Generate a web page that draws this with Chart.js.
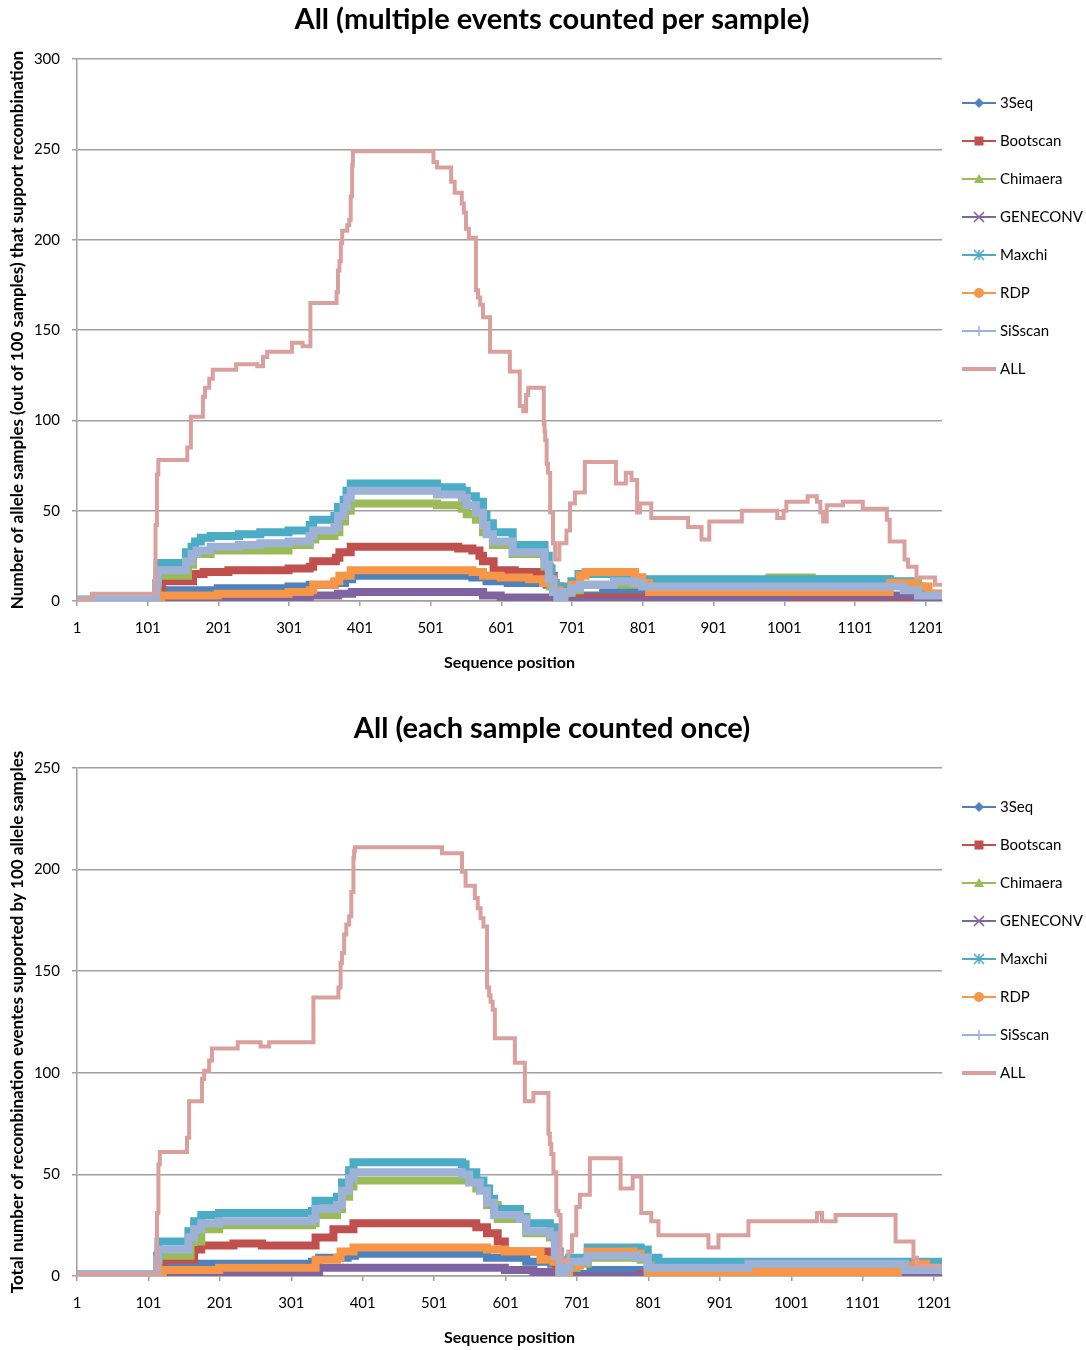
<!DOCTYPE html>
<html>
<head>
<meta charset="utf-8">
<script src="https://cdn.jsdelivr.net/npm/chart.js@4/dist/chart.umd.min.js"></script>
<style>
  body { margin: 0; background: #fff; }
  canvas { position: absolute; left: 0; }
</style>
</head>
<body>
<canvas id="topChart" width="1086" height="675" style="top:0"></canvas>
<canvas id="bottomChart" width="1086" height="675" style="top:675px"></canvas>
<script>
// series (legend order) and their look
const seriesNames = ['3Seq', 'Bootscan', 'Chimaera', 'GENECONV', 'Maxchi', 'RDP', 'SiSscan', 'ALL'];
const seriesColors = ['#4F81BD', '#C0504D', '#9BBB59', '#8064A2', '#4BACC6', '#F79646', '#9DB2D6', '#D9A09E'];
const markerStyles = ['diamond', 'square', 'triangle', 'x', 'star', 'circle', 'plus', 'none'];

const xTickLabels = [1, 101, 201, 301, 401, 501, 601, 701, 801, 901, 1001, 1101, 1201];
const topYTicks = [0, 50, 100, 150, 200, 250, 300];
const bottomYTicks = [0, 50, 100, 150, 200, 250];

// ---- top chart: [sequence position, count] where the step starts ----
const top3Seq = [[1,0],[118,0],[122,6],[200,7],[300,8],[330,9],[365,10],[380,12],[390,14],[560,13],[580,11],[610,10],[665,9],[675,4],[685,0],[695,2],[712,3],[745,5],[790,4],[800,1],[1224,1]];
const topBootscan = [[1,0],[115,0],[118,5],[121,11],[160,11],[165,15],[180,16],[215,17],[300,18],[330,19],[335,22],[367,24],[372,27],[388,30],[540,29],[560,28],[570,25],[575,22],[590,17],[620,16],[660,14],[675,8],[685,2],[800,1],[1224,1]];
const topChimaera = [[1,0],[110,0],[115,14],[150,14],[158,20],[165,26],[190,28],[300,31],[330,34],[338,36],[365,38],[372,44],[380,50],[388,54],[510,53],[545,51],[552,48],[565,45],[575,38],[589,31],[617,26],[662,19],[670,8],[680,2],[700,6],[712,9],[790,10],[900,11],[980,13],[1040,12],[1150,10],[1190,4],[1224,3]];
const topGeneconv = [[1,0],[120,0],[125,1],[200,2],[330,3],[370,4],[390,5],[560,5],[575,3],[600,2],[680,0],[820,1],[900,2],[1000,3],[1150,3],[1190,1],[1224,1]];
const topMaxchi = [[1,0],[110,0],[113,10],[115,21],[150,21],[155,27],[163,30],[168,33],[176,35],[190,36],[230,37],[260,38],[300,39],[330,42],[335,45],[365,47],[370,52],[378,56],[382,61],[388,65],[510,63],[545,61],[552,58],[565,55],[575,48],[580,43],[589,38],[617,31],[662,25],[668,18],[672,10],[678,5],[684,3],[690,8],[700,11],[710,15],[790,13],[800,12],[1150,11],[1180,8],[1195,4],[1224,3]];
const topRdp = [[1,0],[115,0],[120,3],[200,4],[300,5],[330,6],[335,9],[365,11],[372,14],[388,17],[540,17],[560,16],[575,14],[600,13],[640,12],[660,10],[675,6],[683,2],[690,5],[700,9],[712,14],[720,16],[780,16],[790,13],[800,10],[810,5],[1140,5],[1150,10],[1185,8],[1205,4],[1224,2]];
const topSisscan = [[1,1],[110,1],[113,10],[115,17],[150,17],[155,22],[163,26],[170,28],[190,30],[230,31],[260,32],[300,33],[330,36],[335,39],[365,41],[370,47],[378,52],[383,57],[388,61],[510,59],[545,57],[552,53],[565,49],[575,42],[580,37],[589,33],[617,27],[662,20],[668,12],[674,5],[680,2],[690,5],[700,7],[712,9],[760,11],[790,10],[800,8],[1150,8],[1170,6],[1190,3],[1224,2]];
const topAll = [[1,1],[22,4],[108,4],[112,42],[114,70],[116,78],[157,85],[162,102],[179,113],[182,118],[188,123],[193,128],[226,131],[256,130],[264,135],[270,138],[305,143],[320,141],[331,165],[368,171],[370,183],[372,188],[374,198],[376,205],[383,208],[386,211],[388,224],[390,241],[391,249],[505,243],[510,240],[530,232],[535,226],[545,220],[548,215],[551,206],[555,201],[565,172],[568,168],[571,164],[575,157],[585,138],[613,127],[627,108],[632,105],[636,114],[639,118],[661,98],[662,94],[663,89],[665,76],[667,71],[670,49],[674,32],[677,23],[683,32],[693,39],[698,54],[705,60],[719,77],[763,65],[777,71],[785,67],[793,49],[797,54],[813,46],[865,41],[884,34],[895,44],[941,50],[991,46],[1000,50],[1004,55],[1034,58],[1047,55],[1052,49],[1056,44],[1061,53],[1084,55],[1112,51],[1146,45],[1150,33],[1171,23],[1176,19],[1188,13],[1214,9],[1224,9]];

// ---- bottom chart ----
const bottom3Seq = [[1,0],[118,0],[122,6],[330,7],[340,9],[380,10],[390,11],[560,11],[575,9],[621,9],[630,7],[665,6],[675,2],[685,0],[700,1],[720,3],[790,3],[800,1],[1212,1]];
const bottomBootscan = [[1,0],[118,0],[121,8],[160,8],[165,13],[175,15],[220,16],[260,15],[330,15],[335,19],[360,23],[388,26],[545,26],[560,24],[575,21],[590,17],[600,12],[665,11],[672,5],[680,0],[790,1],[800,2],[900,1],[1212,1]];
const bottomChimaera = [[1,0],[110,0],[115,10],[150,10],[160,17],[175,23],[200,25],[330,26],[335,30],[365,33],[372,39],[382,44],[388,47],[540,47],[560,43],[575,35],[590,28],[630,21],[663,19],[672,8],[680,1],[700,6],[716,9],[790,8],[800,5],[1212,5]];
const bottomGeneconv = [[1,0],[120,0],[125,1],[330,1],[340,4],[570,4],[600,3],[640,2],[670,1],[680,0],[1212,0]];
const bottomMaxchi = [[1,0],[110,0],[113,10],[115,17],[150,17],[157,22],[165,27],[175,30],[200,31],[330,32],[335,37],[365,39],[372,46],[382,52],[388,56],[540,55],[545,51],[560,47],[570,43],[578,38],[585,33],[621,29],[630,26],[663,24],[670,12],[677,2],[685,5],[690,9],[716,14],[790,13],[800,9],[815,7],[1212,7]];
const bottomRdp = [[1,0],[118,0],[121,3],[200,4],[330,4],[335,8],[365,9],[370,12],[388,14],[560,14],[575,13],[600,12],[635,12],[650,8],[668,7],[676,1],[690,5],[705,7],[716,12],[770,12],[780,11],[790,9],[800,2],[1140,2],[1150,5],[1175,6],[1190,3],[1212,2]];
const bottomSisscan = [[1,1],[110,1],[113,8],[115,13],[150,13],[157,19],[165,23],[175,26],[200,27],[330,28],[335,33],[365,35],[372,42],[382,48],[388,51],[540,50],[550,46],[565,42],[575,36],[585,30],[621,28],[630,22],[663,20],[670,10],[677,1],[685,4],[690,7],[716,10],[785,9],[800,4],[941,6],[1147,6],[1160,3],[1212,3]];
const bottomAll = [[1,1],[113,31],[115,55],[117,61],[155,68],[158,86],[176,97],[179,101],[186,106],[190,112],[226,115],[258,113],[270,115],[332,137],[367,142],[370,154],[372,159],[375,168],[378,173],[382,177],[385,189],[388,206],[389,209],[390,211],[512,208],[540,199],[545,192],[558,186],[562,181],[566,176],[570,172],[575,142],[578,138],[580,135],[583,131],[586,117],[614,105],[628,86],[640,90],[661,70],[663,65],[665,60],[668,51],[672,32],[675,30],[678,7],[689,12],[694,20],[700,34],[705,40],[719,58],[762,43],[779,49],[791,31],[805,27],[815,20],[885,14],[899,20],[941,27],[1037,31],[1044,27],[1063,30],[1147,17],[1172,9],[1177,5],[1212,5]];

const topSeries = [top3Seq, topBootscan, topChimaera, topGeneconv, topMaxchi, topRdp, topSisscan, topAll];
const bottomSeries = [bottom3Seq, bottomBootscan, bottomChimaera, bottomGeneconv, bottomMaxchi, bottomRdp, bottomSisscan, bottomAll];

function drawMarker(ctx, style, x, y, r, color) {
  ctx.save();
  ctx.fillStyle = color;
  ctx.strokeStyle = color;
  ctx.lineWidth = 1.5;
  ctx.beginPath();
  if (style === 'diamond') {
    ctx.moveTo(x, y - r); ctx.lineTo(x + r, y); ctx.lineTo(x, y + r); ctx.lineTo(x - r, y); ctx.closePath(); ctx.fill();
  } else if (style === 'square') {
    ctx.rect(x - r + 0.5, y - r + 0.5, 2 * r - 1, 2 * r - 1); ctx.fill();
  } else if (style === 'triangle') {
    ctx.moveTo(x, y - r); ctx.lineTo(x + r, y + r * 0.8); ctx.lineTo(x - r, y + r * 0.8); ctx.closePath(); ctx.fill();
  } else if (style === 'x') {
    ctx.moveTo(x - r, y - r); ctx.lineTo(x + r, y + r); ctx.moveTo(x + r, y - r); ctx.lineTo(x - r, y + r); ctx.stroke();
  } else if (style === 'star') {
    ctx.moveTo(x - r, y - r); ctx.lineTo(x + r, y + r); ctx.moveTo(x + r, y - r); ctx.lineTo(x - r, y + r);
    ctx.moveTo(x, y - r); ctx.lineTo(x, y + r); ctx.stroke();
  } else if (style === 'circle') {
    ctx.arc(x, y, r, 0, Math.PI * 2); ctx.fill();
  } else if (style === 'plus') {
    ctx.moveTo(x, y - r); ctx.lineTo(x, y + r); ctx.stroke();
  }
  ctx.restore();
}

// legend on the right + centred title, drawn like the spreadsheet chart
const sideLegend = {
  id: 'sideLegend',
  afterDraw(chart, args, opts) {
    const ctx = chart.ctx;
    const area = chart.chartArea;
    const x0 = area.right + 20;
    ctx.save();
    ctx.textBaseline = 'middle';
    seriesNames.forEach((name, i) => {
      const y = area.top + opts.offset + i * opts.gap;
      ctx.strokeStyle = seriesColors[i];
      ctx.lineWidth = name === 'ALL' ? 4 : 2;
      ctx.beginPath();
      ctx.moveTo(x0, y);
      ctx.lineTo(x0 + 34, y);
      ctx.stroke();
      drawMarker(ctx, markerStyles[i], x0 + 17, y, 5, seriesColors[i]);
      ctx.fillStyle = '#000';
      ctx.font = '15px Lato';
      ctx.textAlign = 'left';
      ctx.fillText(name, x0 + 38, y);
    });
    ctx.font = 'bold 29px Lato';
    ctx.textAlign = 'center';
    ctx.fillStyle = '#000';
    ctx.fillText(opts.title, opts.titleX, opts.titleY);
    ctx.restore();
  }
};

function buildChart(id, series, yTicks, xMax, title, titleY, yTitle, legendOffset, topPad) {
  const datasets = series.map((pts, i) => ({
    label: seriesNames[i],
    data: pts.map(p => ({ x: p[0], y: p[1] })),
    borderColor: seriesColors[i],
    backgroundColor: seriesColors[i],
    borderWidth: seriesNames[i] === 'ALL' ? 4 : 8,
    borderJoinStyle: 'miter',
    stepped: true,
    pointRadius: 0,
    fill: false,
    order: seriesNames.length - i
  }));
  return new Chart(document.getElementById(id), {
    type: 'line',
    data: { datasets },
    plugins: [sideLegend],
    options: {
      responsive: false,
      animation: false,
      devicePixelRatio: 1,
      layout: { padding: { top: topPad, right: 144, left: 0, bottom: 0 } },
      plugins: {
        legend: { display: false },
        tooltip: { enabled: false },
        sideLegend: { offset: legendOffset, gap: 38, title: title, titleX: 552, titleY: titleY }
      },
      scales: {
        x: {
          type: 'linear',
          min: 1,
          max: xMax,
          afterBuildTicks: s => { s.ticks = xTickLabels.map(v => ({ value: v })); },
          afterFit: s => { s.height = 74; },
          ticks: { autoSkip: false, maxRotation: 0, padding: 13, color: '#000', font: { family: 'Lato', size: 15 }, callback: v => String(v) },
          grid: { drawOnChartArea: false, drawTicks: true, tickLength: 5, color: '#A0A0A0', lineWidth: 1.5 },
          border: { color: '#A0A0A0', width: 1.5 },
          title: { display: true, text: 'Sequence position', color: '#000', font: { family: 'Lato', size: 16, weight: 'bold' }, padding: { top: 0, bottom: 3 } }
        },
        y: {
          min: 0,
          max: yTicks[yTicks.length - 1],
          afterBuildTicks: s => { s.ticks = yTicks.map(v => ({ value: v })); },
          afterFit: s => { s.width = 77; },
          ticks: { padding: 12, color: '#000', font: { family: 'Lato', size: 15 }, callback: v => String(v) },
          grid: { color: '#A0A0A0', lineWidth: 1.5, tickLength: 5 },
          border: { color: '#A0A0A0', width: 1.5 },
          title: { display: true, text: yTitle, color: '#000', font: { family: 'Lato', size: 17, weight: 'bold' }, padding: { top: 7, bottom: 0 } }
        }
      }
    }
  });
}

Promise.all([document.fonts.load('15px Lato'), document.fonts.load('bold 15px Lato')]).finally(() => {
  buildChart('topChart', topSeries, topYTicks, 1224,
    'All (multiple events counted per sample)', 20,
    'Number of allele samples (out of 100 samples) that support recombination', 44, 59);
  buildChart('bottomChart', bottomSeries, bottomYTicks, 1212,
    'All (each sample counted once)', 54,
    'Total number of recombination eventes supported by 100 allele samples', 39, 93);
});
</script>
</body>
</html>
